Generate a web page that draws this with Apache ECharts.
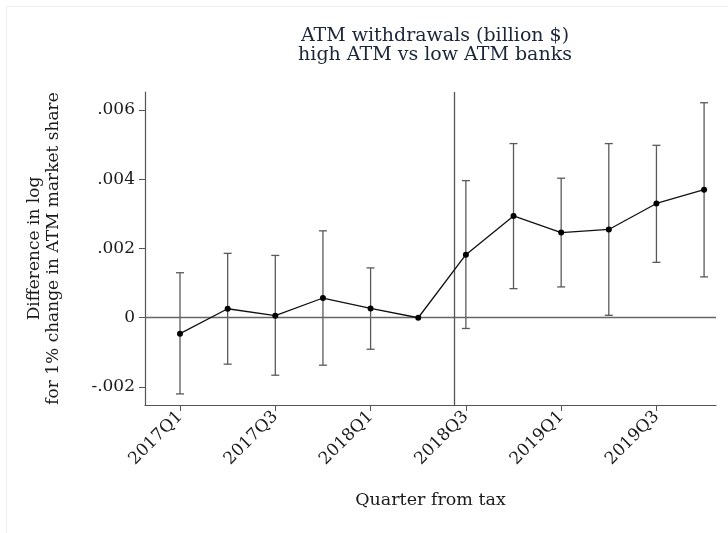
<!DOCTYPE html>
<html>
<head>
<meta charset="utf-8">
<script src="https://cdn.jsdelivr.net/npm/echarts@6/dist/echarts.min.js"></script>
<style>
  html, body { margin: 0; padding: 0; background: #fff; }
  #chart { width: 728px; height: 533px; }
</style>
</head>
<body>
<div id="chart"></div>
<script>
// Quarterly event-study estimates with 95% confidence intervals
const quarters = ['2017Q1','2017Q2','2017Q3','2017Q4','2018Q1','2018Q2',
                  '2018Q3','2018Q4','2019Q1','2019Q2','2019Q3','2019Q4'];
const estimates = [-0.00046, 0.00026, 0.00006, 0.00057, 0.00027, 0,
                   0.00182, 0.00294, 0.00246, 0.00255, 0.00330, 0.00370];
const ciLow  = [-0.00220, -0.00134, -0.00166, -0.00137, -0.00091, null,
                -0.00031, 0.00084, 0.00089, 0.00007, 0.00160, 0.00118];
const ciHigh = [0.00130, 0.00186, 0.00180, 0.00251, 0.00144, null,
                0.00396, 0.00503, 0.00403, 0.00503, 0.00498, 0.00621];
const yTicks = [-0.002, 0, 0.002, 0.004, 0.006];
const xLabelIdx = [0, 2, 4, 6, 8, 10];
const taxDate = 5.75; // policy change, part-way through 2018Q2

const FONT = 'DejaVu Serif';
const TEXT = '#1a1a1a';

const pointData = estimates.map((v, i) => [i, v]);
const barData = [];
ciLow.forEach((lo, i) => { if (lo !== null) barData.push([i, lo, ciHigh[i]]); });

const chart = echarts.init(document.getElementById('chart'));
chart.setOption({
  animation: false,
  backgroundColor: '#fff',
  title: {
    text: 'ATM withdrawals (billion $)\nhigh ATM vs low ATM banks',
    left: 430, top: 22, textAlign: 'center',
    textStyle: { fontFamily: FONT, fontSize: 19, fontWeight: 'normal', color: '#1c2638', lineHeight: 19 }
  },
  graphic: [
    { type: 'line', silent: true, shape: { x1: 6.5, y1: 6.5, x2: 728, y2: 6.5 }, style: { stroke: '#eaf0f4', lineWidth: 1 } },
    { type: 'line', silent: true, shape: { x1: 6.5, y1: 6.5, x2: 6.5, y2: 533 }, style: { stroke: '#eaf0f4', lineWidth: 1 } }
  ],
  grid: { left: 145, right: 12, top: 92, bottom: 128 },
  xAxis: {
    type: 'value', min: -0.735, max: 11.25,
    name: 'Quarter from tax', nameLocation: 'middle', nameGap: 86,
    nameTextStyle: { fontFamily: FONT, fontSize: 17.5, color: TEXT },
    axisLine: { show: true, onZero: false, lineStyle: { color: '#555', width: 1.2 } },
    axisTick: { show: true, length: 6, customValues: xLabelIdx, lineStyle: { color: '#555' } },
    axisLabel: {
      customValues: xLabelIdx, rotate: 45, fontFamily: FONT, fontSize: 17, color: TEXT, margin: 9,
      formatter: v => quarters[Math.round(v)]
    },
    splitLine: { show: false }
  },
  yAxis: {
    type: 'value', min: -0.00252, max: 0.00652,
    name: 'Difference in log\nfor 1% change in ATM market share',
    nameLocation: 'middle', nameGap: 82, nameRotate: 90,
    nameTextStyle: { fontFamily: FONT, fontSize: 17, color: TEXT, lineHeight: 19 },
    axisLine: { show: true, onZero: false, lineStyle: { color: '#555', width: 1.2 } },
    axisTick: { show: true, length: 6, customValues: yTicks, lineStyle: { color: '#555' } },
    axisLabel: {
      customValues: yTicks, fontFamily: FONT, fontSize: 17, color: TEXT, margin: 10,
      formatter: v => v === 0 ? '0' : v.toFixed(3).replace('0.', '.')
    },
    splitLine: { show: false }
  },
  series: [
    {
      // light horizontal gridlines plus the zero reference and the tax-date marker
      type: 'line', data: [], silent: true,
      markLine: {
        silent: true, symbol: 'none', label: { show: false },
        data: yTicks.filter(t => t !== 0).map(t => ({ yAxis: t, lineStyle: { color: '#e8eff3', width: 1.2, type: 'solid' } }))
          .concat([
            { yAxis: 0, lineStyle: { color: '#666', width: 1.3, type: 'solid' } },
            { xAxis: taxDate, lineStyle: { color: '#555', width: 1.3, type: 'solid' } }
          ])
      }
    },
    {
      // confidence-interval whiskers with caps
      type: 'custom', data: barData, silent: true,
      renderItem: (params, api) => {
        const x = api.value(0);
        const lo = api.coord([x, api.value(1)]);
        const hi = api.coord([x, api.value(2)]);
        const cap = 4;
        const st = { stroke: '#5a5a5a', lineWidth: 1.3 };
        return {
          type: 'group',
          children: [
            { type: 'line', shape: { x1: lo[0], y1: lo[1], x2: hi[0], y2: hi[1] }, style: st },
            { type: 'line', shape: { x1: lo[0] - cap, y1: lo[1], x2: lo[0] + cap, y2: lo[1] }, style: st },
            { type: 'line', shape: { x1: hi[0] - cap, y1: hi[1], x2: hi[0] + cap, y2: hi[1] }, style: st }
          ]
        };
      },
      encode: { x: 0, y: [1, 2] }
    },
    {
      type: 'line', data: pointData, z: 5,
      symbol: 'circle', symbolSize: 6,
      lineStyle: { color: '#111', width: 1.3 },
      itemStyle: { color: '#000' }
    }
  ]
});
</script>
</body>
</html>
